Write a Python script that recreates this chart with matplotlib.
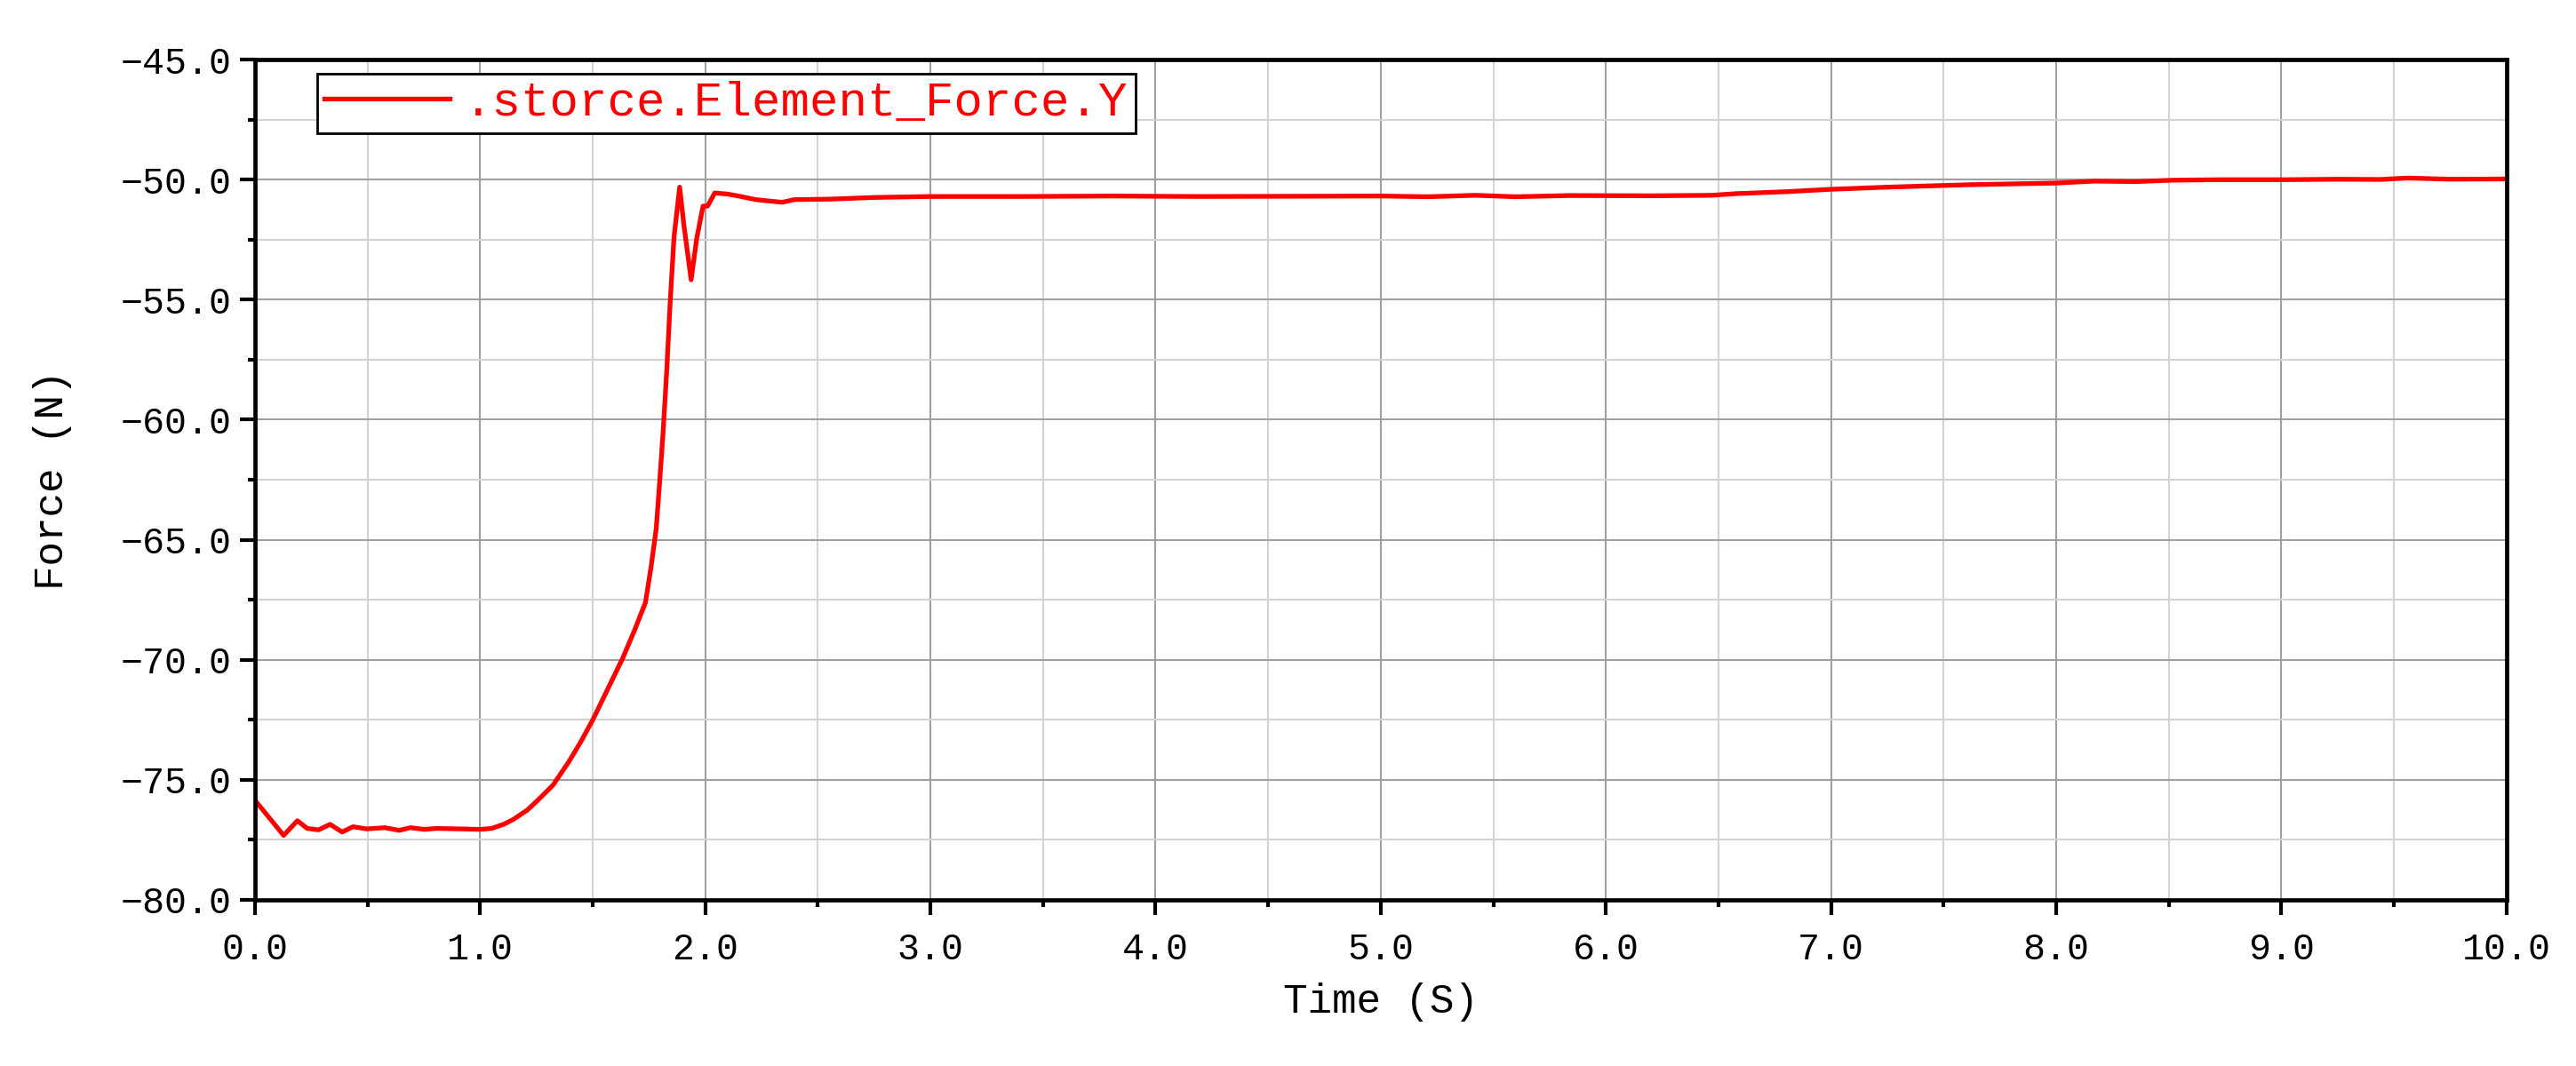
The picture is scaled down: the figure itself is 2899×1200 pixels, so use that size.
import matplotlib
matplotlib.use('Agg')
import matplotlib.pyplot as plt
from matplotlib.ticker import MultipleLocator, FuncFormatter

# datos
time_s = [0.0, 0.127, 0.188, 0.232, 0.282, 0.333, 0.387, 0.435, 0.496, 0.576,
          0.641, 0.690, 0.752, 0.805, 0.91, 1.0, 1.051, 1.104, 1.148, 1.210,
          1.262, 1.324, 1.394, 1.447, 1.500, 1.544, 1.588, 1.632, 1.685, 1.734,
          1.759, 1.782, 1.796, 1.812, 1.829, 1.844, 1.861, 1.886, 1.905, 1.937,
          1.962, 1.990, 2.010, 2.042, 2.100, 2.158, 2.224, 2.276, 2.342, 2.395,
          2.553, 2.75, 3.0, 3.4, 3.8, 4.2, 4.6, 5.0, 5.21, 5.42,
          5.60, 5.84, 6.2, 6.47, 6.58, 6.80, 7.0, 7.25, 7.61, 8.0,
          8.17, 8.35, 8.52, 8.73, 9.01, 9.25, 9.44, 9.56, 9.75, 10.0]
force_y = [-75.86, -77.32, -76.71, -77.03, -77.09, -76.86, -77.18, -76.96, -77.05, -77.0,
           -77.11, -77.0, -77.07, -77.03, -77.05, -77.07, -77.03, -76.86, -76.65, -76.26,
           -75.80, -75.22, -74.25, -73.42, -72.51, -71.66, -70.81, -69.96, -68.79, -67.62,
           -66.14, -64.54, -62.74, -60.6, -57.9, -55.1, -52.4, -50.31, -51.9, -54.17,
           -52.44, -51.1, -51.1, -50.55, -50.6, -50.70, -50.83, -50.88, -50.94, -50.83,
           -50.81, -50.74, -50.70, -50.70, -50.68, -50.70, -50.69, -50.68, -50.71, -50.65,
           -50.71, -50.66, -50.67, -50.65, -50.58, -50.50, -50.40, -50.31, -50.21, -50.14,
           -50.06, -50.08, -50.02, -50.0, -50.0, -49.98, -49.99, -49.93, -49.98, -49.97]
series_name = '.storce.Element_Force.Y'

plt.rcParams['font.family'] = ['Liberation Mono', 'DejaVu Sans']

fig, ax = plt.subplots(figsize=(28.99, 12), dpi=100)
fig.subplots_adjust(left=0.099, right=0.973, top=0.944, bottom=0.156)

ax.plot(time_s, force_y, color='red', linewidth=3.8, label=series_name)

ax.set_xlim(0, 10)
ax.set_ylim(-80, -45)
ax.xaxis.set_major_locator(MultipleLocator(1))
ax.xaxis.set_minor_locator(MultipleLocator(0.5))
ax.yaxis.set_major_locator(MultipleLocator(5))
ax.yaxis.set_minor_locator(MultipleLocator(2.5))
fmt = FuncFormatter(lambda v, p: ('%.1f' % v).replace('-', '\u2212'))
ax.xaxis.set_major_formatter(fmt)
ax.yaxis.set_major_formatter(fmt)

# cuadricula
ax.set_axisbelow(True)
ax.grid(which='major', color='#a0a0a0', linewidth=1.5)
ax.grid(which='minor', color='#d3d3d3', linewidth=1.5)

for s in ax.spines.values():
    s.set_linewidth(3.4)
    s.set_color('black')

ax.tick_params(which='major', direction='out', length=12, width=3, labelsize=30)
ax.tick_params(which='minor', direction='out', length=6, width=3)
ax.tick_params(axis='x', which='major', pad=14)
ax.tick_params(axis='y', which='major', pad=7)

ax.set_xlabel('Time (S)', fontsize=33, va='center')
ax.xaxis.set_label_coords(0.5, -0.1216)
ax.set_ylabel('Force (N)', fontsize=33, va='center')
ax.yaxis.set_label_coords(-0.09, 0.5)

leg = ax.legend(loc='upper left', bbox_to_anchor=(0.0276, 0.983), borderaxespad=0,
                fontsize=39, handlelength=2.6, handletextpad=0.3, borderpad=0.15,
                fancybox=False, framealpha=1)
leg.get_frame().set_edgecolor('black')
leg.get_frame().set_linewidth(2)
for txt in leg.get_texts():
    txt.set_color('red')

plt.savefig('out.png', dpi=100)
